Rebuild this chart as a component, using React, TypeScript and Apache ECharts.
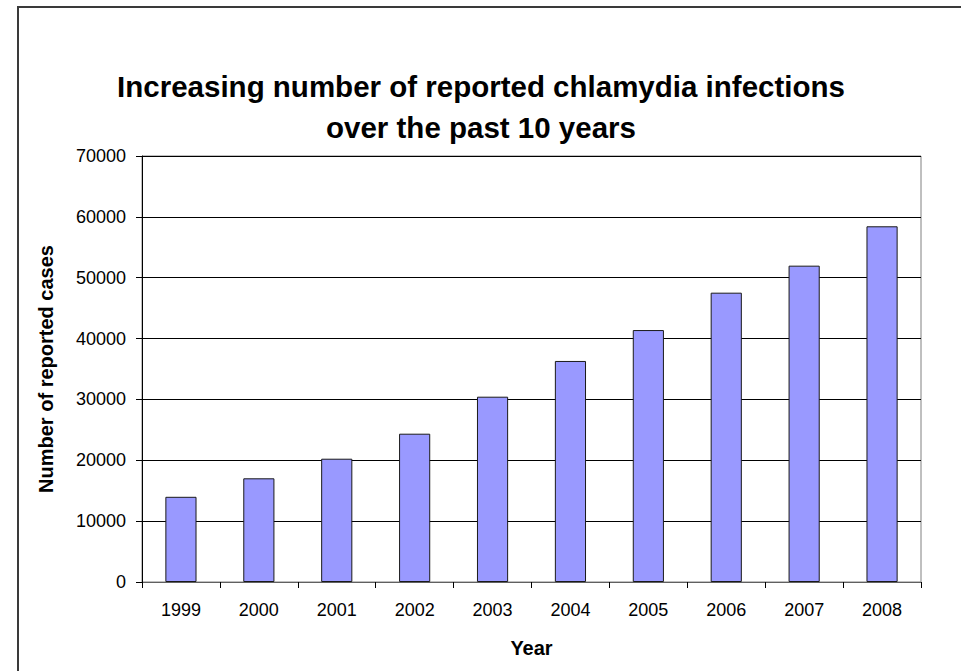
import React, { useEffect, useRef } from "react";
import * as echarts from "echarts";

const years = ["1999", "2000", "2001", "2002", "2003", "2004", "2005", "2006", "2007", "2008"];
const reportedCases = [14000, 17040, 20260, 24370, 30450, 36320, 41400, 47540, 51980, 58450];
const titleText = "Increasing number of reported chlamydia infections\nover the past 10 years";
const yAxisTitle = "Number of reported cases";
const xAxisTitle = "Year";

export default function App() {
  const ref = useRef<HTMLDivElement>(null);
  useEffect(() => {
    document.body.style.margin = "0";
    const chart = echarts.init(ref.current!, null, { renderer: "svg" });
    const font = "Liberation Sans, Arial, sans-serif";
    chart.setOption({
      animation: false,
      backgroundColor: "#ffffff",
      graphic: [
        {
          type: "rect",
          shape: { x: 18, y: 7, width: 1000, height: 1000 },
          style: { fill: "none", stroke: "#3a3a3a", lineWidth: 2 },
          silent: true,
        },
        {
          type: "text",
          x: 481,
          y: 66,
          style: {
            text: titleText,
            textAlign: "center",
            textVerticalAlign: "top",
            fontFamily: font,
            fontSize: 29.5,
            fontWeight: "bold",
            lineHeight: 41,
            fill: "#000",
          },
        },
      ],
      grid: {
        left: 142,
        top: 156,
        right: 40,
        bottom: 89,
        show: true,
        borderColor: "#808080",
        borderWidth: 1,
        backgroundColor: "transparent",
      },
      xAxis: {
        type: "category",
        data: years,
        boundaryGap: true,
        name: xAxisTitle,
        nameLocation: "middle",
        nameGap: 56,
        nameTextStyle: { fontFamily: font, fontSize: 20, fontWeight: "bold", color: "#000" },
        axisLine: { show: true, lineStyle: { color: "#606060", width: 1 } },
        axisTick: { show: true, alignWithLabel: false, length: 6, lineStyle: { color: "#000" } },
        axisLabel: { fontFamily: font, fontSize: 18, color: "#000", margin: 19 },
        splitLine: { show: false },
      },
      yAxis: {
        type: "value",
        min: 0,
        max: 70000,
        interval: 10000,
        name: yAxisTitle,
        nameLocation: "middle",
        nameGap: 86,
        nameTextStyle: { fontFamily: font, fontSize: 20, fontWeight: "bold", color: "#000" },
        axisLine: { show: true, lineStyle: { color: "#000", width: 1 } },
        axisTick: { show: true, length: 6, lineStyle: { color: "#000" } },
        axisLabel: { fontFamily: font, fontSize: 18, color: "#000", margin: 16, formatter: (v: number) => String(v) },
        splitLine: { show: true, lineStyle: { color: "#000", width: 1 } },
      },
      series: [
        {
          type: "bar",
          data: reportedCases,
          barWidth: "40%",
          itemStyle: { color: "#9999ff", borderColor: "#1a1a1a", borderWidth: 1 },
        },
      ],
    });
    return () => chart.dispose();
  }, []);
  return <div ref={ref} style={{ width: 961, height: 671 }} />;
}
